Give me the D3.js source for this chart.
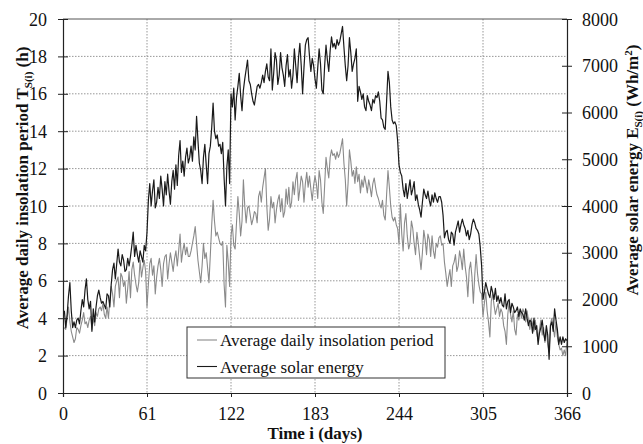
<!DOCTYPE html>
<html><head><meta charset="utf-8">
<script src="https://cdn.jsdelivr.net/npm/d3@7"></script>
<style>body{margin:0;background:#fff}svg{display:block}text{font-family:"Liberation Serif","Times New Roman",serif;fill:#111}</style>
</head><body>
<script>
// Average daily insolation period T_S(i) (h), days 1..366
const insolation = [3.5,3.4,4.0,4.6,3.8,3.3,3.0,2.7,2.9,3.5,3.4,3.2,3.6,3.9,4.3,3.7,3.8,3.5,3.9,4.1,3.4,4.0,3.6,4.3,4.1,4.5,4.6,4.4,4.8,4.2,
4.0,4.6,4.0,5.0,5.7,5.3,4.6,5.7,6.0,6.2,5.1,6.4,6.2,5.7,6.0,4.8,5.6,6.5,5.1,6.6,7.0,6.3,5.8,5.4,5.9,7.1,6.2,6.7,7.1,6.5,
4.6,5.8,6.9,7.2,6.3,6.8,5.3,6.2,6.8,7.2,6.6,5.7,6.9,7.3,7.4,6.1,6.9,7.5,7.0,6.5,7.2,7.6,6.8,7.6,8.5,7.0,7.6,8.0,7.4,7.8,
7.3,7.3,7.6,8.0,8.4,8.9,8.0,7.1,6.5,5.9,6.8,8.0,7.2,7.5,6.7,5.9,7.4,9.0,10.3,9.2,8.4,8.6,8.3,8.0,7.9,8.1,5.8,4.6,7.9,7.0,
5.7,8.4,9.0,7.9,7.7,9.1,10.5,9.6,8.4,9.2,11.4,10.0,9.1,9.9,10.0,9.5,9.0,9.3,9.7,9.6,9.1,10.5,10.8,10.2,11.0,11.5,12.0,10.0,8.7,9.3,
10.5,9.9,10.2,9.1,9.8,10.3,10.6,9.7,10.4,9.4,9.7,10.9,10.1,11.0,9.9,10.2,11.3,10.6,11.4,11.8,10.3,10.9,11.6,11.3,10.2,11.2,11.8,11.0,11.6,10.9,
10.3,11.1,11.6,11.2,10.4,11.9,11.4,10.2,9.6,11.1,12.6,12.0,11.5,12.6,13.0,12.7,12.8,12.5,12.9,12.6,12.8,13.2,13.6,12.3,11.4,10.0,11.2,13.0,12.4,11.6,
11.9,11.2,12.1,11.3,11.7,10.7,11.4,11.0,11.6,11.2,10.7,11.4,11.0,10.5,11.2,11.5,11.0,10.6,10.4,10.1,9.9,10.3,9.5,9.25,10.6,11.9,11.0,10.0,9.4,9.2,
9.4,9.0,8.8,8.0,10.1,8.5,7.6,9.1,9.6,8.4,7.7,8.0,9.2,8.8,8.0,7.4,8.6,8.0,7.3,6.6,7.5,8.7,8.2,7.4,8.5,8.2,7.3,8.4,7.6,7.2,
8.0,7.8,8.3,8.4,7.9,8.0,7.0,6.4,5.7,6.2,6.6,5.7,6.8,7.0,7.4,6.5,6.8,7.6,7.2,6.6,7.7,6.8,6.2,5.15,6.6,7.0,6.2,4.8,6.3,7.4,
6.4,5.8,5.4,5.3,4.1,4.8,5.4,4.4,3.8,3.0,4.9,5.3,4.7,4.2,4.5,4.8,4.1,4.5,4.3,3.6,3.3,2.6,4.2,4.9,4.2,3.8,4.4,3.4,3.1,4.2,
3.9,4.4,4.0,4.5,4.3,3.8,4.4,3.9,3.4,4.0,3.7,3.3,3.9,3.2,2.8,3.4,3.9,3.1,3.5,2.7,3.4,2.6,2.2,3.7,4.0,3.5,3.0,3.8,3.0,2.6,
2.3,2.4,2.0,2.3,2.0,2.8];

// Average solar energy E_S(i) (Wh/m2), days 1..366
const solarEnergy = [1760,1400,1680,2080,2360,1760,1400,1520,1400,1560,1600,1480,1760,2000,1840,2200,2440,2000,1800,1960,1320,1800,1520,1840,2080,2200,2040,1920,1960,1880,
1800,2120,2080,1840,2320,2640,2780,2440,2760,3080,2800,2720,2960,2840,2600,2640,2880,2720,2920,3160,3440,2920,3160,2960,2800,3040,2920,2800,3160,3040,
3440,4120,4480,4000,4320,4560,3960,4080,4400,4160,4640,4360,4000,4520,4240,4680,4320,4040,4520,4760,4360,4880,4440,5080,5400,4720,4960,4640,5040,5240,
4920,5040,5280,4960,5480,5200,5920,5400,4920,4760,4480,5040,5320,4880,4480,5120,5280,5680,6200,5600,5440,5520,5280,5320,5120,5360,4600,4000,4840,5200,
4480,6400,6120,6520,5840,6320,6560,6840,6360,6040,6480,6720,6920,7120,6680,6600,6400,6240,6160,6360,6560,6600,6520,6640,6800,6640,6880,7040,6760,6680,
7360,6480,6840,7280,7120,6600,6800,7280,6960,6800,6560,7000,7240,6760,6920,6520,6800,7360,7000,6640,7160,7480,7000,6400,6960,7440,7560,7600,7200,6880,
7160,7000,6720,6520,6960,7360,7040,6480,6400,7000,7440,7120,6880,7320,7620,7400,7480,7360,7560,7440,7520,7680,7840,7400,7000,6680,7000,7600,7280,6880,
7040,7160,7360,6240,6560,6440,6280,6400,6120,6040,6360,6240,6160,6040,6280,6200,6360,6320,6440,6240,5880,5840,5680,5640,6240,6880,6640,6120,5840,5760,
5800,5720,5400,4880,4720,4640,4360,4200,4480,4160,4360,4560,4240,4360,4520,4120,4240,4040,3920,3760,4080,4360,4240,4160,4320,4120,4000,4240,4080,4280,
4160,4080,4200,4200,4080,3800,3320,3440,3480,3280,3200,3440,3400,3160,3440,3560,3680,3440,3600,3720,3600,3520,3360,3480,3280,3400,3600,3720,3640,3520,
3480,3400,3120,2720,2000,2160,2360,2240,2120,2040,2280,2160,2000,2240,1960,2080,1920,2040,1880,1840,2120,1800,1960,2000,1720,1920,1840,1720,1760,1840,
1640,1800,1720,1680,1560,1800,1600,1440,1560,1520,1280,1600,1360,1440,1040,1280,1400,1560,1280,1120,1440,1240,720,1440,1520,1320,1800,1560,1360,1040,
1200,1040,1200,1080,1160,1120];

const xTicks = [0,61,122,183,244,305,366];
const leftTicks = [0,2,4,6,8,10,12,14,16,18,20];
const rightTicks = [0,1000,2000,3000,4000,5000,6000,7000,8000];
const legendLabels = ["Average daily insolation period","Average solar energy"];
const seriesColors = ["#8a8a8a","#1a1a1a"];

const W = 643, H = 444;
const m = {left:63, right:567, top:19, bottom:393};
const svg = d3.select("body").append("svg").attr("width",W).attr("height",H);

const x = d3.scaleLinear().domain([0,366]).range([m.left,m.right]);
const yL = d3.scaleLinear().domain([0,20]).range([m.bottom,m.top]);
const yR = d3.scaleLinear().domain([0,8000]).range([m.bottom,m.top]);

// gridlines
const grid = svg.append("g").attr("stroke","#8c8c8c").attr("stroke-width",0.9).attr("stroke-dasharray","1.5,1.5");
leftTicks.filter(t=>t>0&&t<20).forEach(t=>grid.append("line").attr("x1",m.left).attr("x2",m.right).attr("y1",yL(t)).attr("y2",yL(t)));
xTicks.filter(t=>t>0&&t<366).forEach(t=>grid.append("line").attr("y1",m.top).attr("y2",m.bottom).attr("x1",x(t)).attr("x2",x(t)));

// lines
const lineT = d3.line().x((d,i)=>x(i+1)).y(d=>yL(d));
const lineE = d3.line().x((d,i)=>x(i+1)).y(d=>yR(d));
svg.append("path").datum(insolation).attr("d",lineT).attr("fill","none").attr("stroke",seriesColors[0]).attr("stroke-width",1.1).attr("stroke-linejoin","round");
svg.append("path").datum(solarEnergy).attr("d",lineE).attr("fill","none").attr("stroke",seriesColors[1]).attr("stroke-width",1.2).attr("stroke-linejoin","round");

// frame top
svg.append("line").attr("x1",m.left).attr("x2",m.right).attr("y1",m.top).attr("y2",m.top).attr("stroke","#555").attr("stroke-width",1);

// axes
const fs = 18;
const axL = svg.append("g").attr("transform",`translate(${m.left},0)`)
  .call(d3.axisLeft(yL).tickValues(leftTicks).tickFormat(d3.format("d")).tickSize(5).tickPadding(11));
const axR = svg.append("g").attr("transform",`translate(${m.right},0)`)
  .call(d3.axisRight(yR).tickValues(rightTicks).tickFormat(d3.format("d")).tickSize(5).tickPadding(10));
const axB = svg.append("g").attr("transform",`translate(0,${m.bottom})`)
  .call(d3.axisBottom(x).tickValues(xTicks).tickFormat(d3.format("d")).tickSize(4).tickPadding(10));
[axL,axR,axB].forEach(a=>{
  a.attr("font-family","Liberation Serif").attr("font-size",fs);
  a.select(".domain").attr("stroke","#222").attr("stroke-width",1.2);
  a.selectAll(".tick line").attr("stroke","#222");
  a.selectAll("text").attr("font-size",fs).attr("font-family","Liberation Serif").attr("fill","#111");
});
// inner tick halves
axL.selectAll(".tick").append("line").attr("x2",5).attr("stroke","#222");
axR.selectAll(".tick").append("line").attr("x2",-5).attr("stroke","#222");
axL.selectAll(".tick text").attr("dy","0.34em");
axR.selectAll(".tick text").attr("dy","0.34em");

// axis titles
svg.append("text").attr("x",(m.left+m.right)/2).attr("y",439).attr("text-anchor","middle")
  .attr("font-size",17).attr("font-weight","bold").text("Time i (days)");

const tl = svg.append("text").attr("transform",`translate(28,188) rotate(-90)`).attr("text-anchor","middle")
  .attr("font-size",17).attr("font-weight","bold");
tl.append("tspan").text("Average daily insolation period T");
tl.append("tspan").attr("font-size",11).attr("dy",4).text("S(i)");
tl.append("tspan").attr("dy",-4).text(" (h)");

const tr = svg.append("text").attr("transform",`translate(638,170) rotate(-90)`).attr("text-anchor","middle")
  .attr("font-size",17).attr("font-weight","bold");
tr.append("tspan").text("Average solar energy E");
tr.append("tspan").attr("font-size",11).attr("dy",4).text("S(i)");
tr.append("tspan").attr("dy",-4).text(" (Wh/m");
tr.append("tspan").attr("font-size",11).attr("dy",-6).text("2");
tr.append("tspan").attr("dy",6).text(")");

// legend
const lg = svg.append("g");
lg.append("rect").attr("x",187).attr("y",327).attr("width",258).attr("height",51).attr("fill","#fff").attr("stroke","#333").attr("stroke-width",1);
legendLabels.forEach((lab,i)=>{
  const yy = 340 + i*26.5;
  lg.append("line").attr("x1",197).attr("x2",217).attr("y1",yy).attr("y2",yy).attr("stroke",seriesColors[i]).attr("stroke-width",1.1);
  lg.append("text").attr("x",220).attr("y",yy+6).attr("font-size",17).text(lab);
});
</script>
</body></html>
